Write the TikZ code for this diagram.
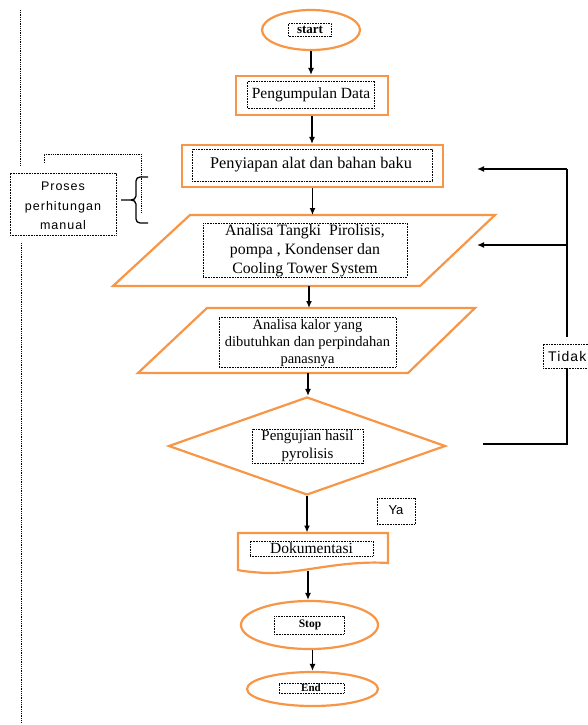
\documentclass[tikz,border=0pt]{standalone}
\usepackage{fontspec}
\setmainfont{Liberation Serif}
\newfontfamily\sansspaced[LetterSpace=8]{Liberation Sans}
\newfontfamily\sansplain{Liberation Sans}
\usetikzlibrary{shapes.geometric,arrows.meta}
\definecolor{flow}{RGB}{247,150,70}
\begin{document}
\begin{tikzpicture}[x=1pt,y=-1pt,
  outer/.style={draw=flow, line width=2.2pt, inner sep=0pt, line join=miter},
  ghost/.style={inner sep=0pt, outer sep=0pt},
  dotbox/.style={draw, dash pattern=on 0.8pt off 0.8pt, line width=0.7pt, inner sep=0pt},
  dotline/.style={dash pattern=on 0.9pt off 0.9pt, line width=0.8pt},
  txt/.style={inner sep=0pt, align=center, font=\fontsize{15.5}{18}\selectfont},
  arr/.style={-{Latex[length=7pt,width=6pt]}, line width=1.3pt},
  conn/.style={line width=1.3pt}]
\useasboundingbox (0,0) rectangle (587,725);
% left dotted rule
\draw[dotline] (20,10) -- (20,165);
\draw[dotline] (21,243) -- (21,723);
% start
\node[outer, ellipse, minimum width=98, minimum height=40] (start) at (311,30) {};
\node[dotbox, minimum width=43, minimum height=13] (startbox) at (310,30) {};
\node[txt, font=\bfseries\fontsize{13}{14}\selectfont] (starttx) at (310,29.5) {start};
% data
\node[outer, rectangle, minimum width=152, minimum height=39] (data) at (312,95.5) {};
\node[dotbox, minimum width=127, minimum height=27] (databox) at (311,94.5) {};
\node[txt] (datatx) at (311,95) {Pengumpulan Data};
% preparation
\node[outer, rectangle, minimum width=261, minimum height=42] (prep) at (312.5,166) {};
\node[dotbox, minimum width=240, minimum height=32] (prepbox) at (312,165) {};
\node[txt, font=\fontsize{16.3}{18}\selectfont] (preptx) at (311,165) {Penyiapan alat dan bahan baku};
% parallelogram 1
\node[ghost, minimum width=230, minimum height=71] (p1) at (309,250.5) {};
\draw[outer] (190,215) -- (495,215) -- (420,286) -- (113,286) -- cycle;
\node[dotbox, minimum width=204, minimum height=54] (p1box) at (305,250) {};
\node[txt, font=\fontsize{15.8}{19}\selectfont] (p1tx) at (305,251) {Analisa Tangki\ \ Pirolisis,\\pompa , Kondenser dan\\Cooling Tower System};
% parallelogram 2
\node[ghost, minimum width=200, minimum height=65] (p2) at (308,340.5) {};
\draw[outer] (207,308) -- (475,308) -- (408,373) -- (138,373) -- cycle;
\node[dotbox, minimum width=177, minimum height=50] (p2box) at (307.5,342) {};
\node[txt, font=\fontsize{14.5}{17}\selectfont] (p2tx) at (307.5,343) {Analisa kalor yang\\dibutuhkan dan perpindahan\\panasnya};
% decision
\node[outer, diamond, minimum width=277, minimum height=98] (dia) at (307,446) {};
\node[dotbox, minimum width=111, minimum height=34] (diabox) at (307.5,446) {};
\node[txt, font=\fontsize{15}{18}\selectfont] (diatx) at (307.5,446) {Pengujian hasil\\pyrolisis};
% Ya label
\node[dotbox, minimum width=38, minimum height=26] (yabox) at (396,511.5) {};
\node[txt, font=\sansplain\fontsize{13}{15}\selectfont] (yatx) at (396,510) {Ya};
% document
\node[ghost, minimum width=151, minimum height=38] (doc) at (308,551.5) {};
\draw[outer] (238,570) -- (238,533) -- (388,533) -- (388,563)
  .. controls (340,560) and (300,574) .. (265,573)
  .. controls (250,572) and (242,571) .. (238,570) -- cycle;
\node[dotbox, minimum width=123, minimum height=15] (docbox) at (311.5,548.5) {};
\node[txt] (doctx) at (311.5,548) {Dokumentasi};
% stop
\node[outer, ellipse, minimum width=137, minimum height=48] (stop) at (309.5,625) {};
\node[dotbox, minimum width=70, minimum height=18] (stopbox) at (309,625) {};
\node[txt, font=\bfseries\fontsize{11.5}{13}\selectfont] (stoptx) at (310,625) {Stop};
% end
\node[outer, ellipse, minimum width=131, minimum height=34] (end) at (312.5,689) {};
\node[dotbox, minimum width=65, minimum height=10] (endbox) at (311.5,688) {};
\node[txt, font=\bfseries\fontsize{11}{12}\selectfont] (endtx) at (311,687.5) {End};
% main arrows
\draw[arr] (start.south) -- (start.south |- data.north);
\draw[arr] (data.south) -- (data.south |- prep.north);
\draw[arr] (prep.south) -- (prep.south |- p1.north);
\draw[arr] (p1.south) -- (p1.south |- p2.north);
\draw[arr] (p2.south) -- (p2.south |- dia.north);
\draw[arr] (dia.south) -- (dia.south |- doc.north);
\draw[arr] (doc.south) -- (doc.south |- stop.north);
\draw[arr] (end.north |- stop.south) -- (end.north);
% feedback loop (Tidak)
\node[dotbox, minimum width=57, minimum height=24] (tidakbox) at (571.5,356) {};
\node[txt, anchor=west, font=\sansspaced\fontsize{14}{15}\selectfont] (tidaktx) at (548,356) {Tidak};
\coordinate (t1) at (567,169);
\coordinate (t2) at (567,245);
\coordinate (t3) at (567,337);
\coordinate (t4) at (567,368);
\coordinate (t5) at (567,444);
\coordinate (t6) at (483,444);
\coordinate (a1) at (477,169);
\coordinate (a2) at (477,245);
\draw[conn] (t3) -- (t1);
\draw[arr] (t1) -- (a1);
\draw[arr] (t2) -- (a2);
\draw[conn] (t4) -- (t5) -- (t6);
% Proses perhitungan manual
\node[dotbox, minimum width=106, minimum height=62] (proses) at (63,204) {};
\node[txt, font=\sansspaced\fontsize{12.5}{19.5}\selectfont] (prosestx) at (63,206) {Proses\\perhitungan\\manual};
\draw[dotline] (44,163) -- (44,154) -- (141,154) -- (141,212);
% brace
\draw[conn] (148,177) -- (140,177) to[out=180,in=90] (136,181) -- (136,196)
  to[out=-90,in=0] (131,200) -- (121,200);
\draw[conn] (131,200) to[out=0,in=90] (136,204) -- (136,219)
  to[out=-90,in=180] (140,223) -- (148,223);
\end{tikzpicture}
\end{document}
